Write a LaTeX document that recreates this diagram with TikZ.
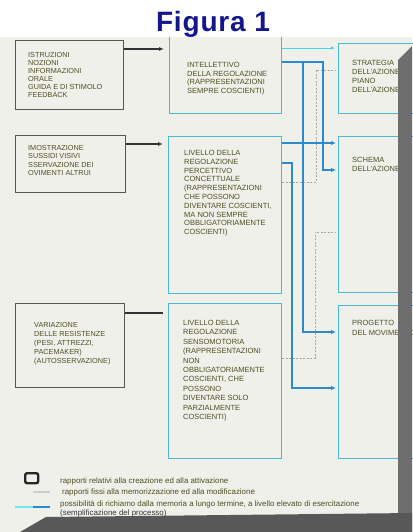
\documentclass[tikz,border=0pt]{standalone}
\usepackage{fontspec}
\setmainfont{Liberation Sans}
\newfontfamily\titlefont[LetterSpace=3]{Liberation Sans}
\usetikzlibrary{calc,arrows.meta}
\definecolor{navy}{HTML}{14168C}
\definecolor{pagebg}{HTML}{F0F0EA}
\definecolor{ltxt}{HTML}{4E4E22}
\definecolor{lboxc}{HTML}{585848}
\definecolor{cboxc}{HTML}{4DB8D4}
\definecolor{bline}{HTML}{2A8ACB}
\definecolor{cyanl}{HTML}{3CD8EC}
\definecolor{dashc}{HTML}{A8A8A0}
\definecolor{band}{HTML}{6E6E6E}
\definecolor{bandd}{HTML}{585858}
\tikzset{
 lbox/.style={draw=lboxc, line width=1.1pt, anchor=north west, inner sep=0pt},
 cbox/.style={draw=cboxc, line width=1.1pt, anchor=north west, inner sep=0pt},
 btxt/.style={anchor=north west, inner sep=0pt, align=left, text=ltxt, font=\fontsize{7.5}{8.8}\selectfont},
 darr/.style={draw=black!80, line width=1.3pt, -{Latex[length=5pt,width=4pt]}},
 dline/.style={draw=black!80, line width=1.3pt},
 barr/.style={draw=bline, line width=1.9pt, -{Latex[length=5pt,width=4.5pt]}},
 carr/.style={draw=cyanl, line width=0.9pt, -{Latex[length=4pt,width=3.5pt]}},
 gdash/.style={draw=dashc, line width=0.6pt, dash pattern=on 2pt off 1.5pt},
 legtxt/.style={anchor=west, inner sep=0pt, text=ltxt, font=\fontsize{7.9}{8}\selectfont},
}
\begin{document}
\begin{tikzpicture}[x=1pt,y=-1pt]
\useasboundingbox (0,0) rectangle (412,532);
\fill[white] (0,0) rectangle (412,532);
\fill[pagebg] (0,37) rectangle (412,532);
% boxes
\node[lbox, minimum width=108pt, minimum height=69pt] (L1) at (15,40) {};
\node[lbox, minimum width=110pt, minimum height=57pt] (L2) at (15,135) {};
\node[lbox, minimum width=109pt, minimum height=84pt] (L3) at (15,303) {};
\node[cbox, minimum width=112pt, minimum height=83pt] (M1) at (169,30) {};
\node[cbox, minimum width=113pt, minimum height=157pt] (M2) at (168,136) {};
\node[cbox, minimum width=113pt, minimum height=155pt] (M3) at (168,303) {};
\node[cbox, minimum width=80pt, minimum height=70pt] (R1) at (338,43) {};
\node[cbox, minimum width=80pt, minimum height=156pt] (R2) at (338,136) {};
\node[cbox, minimum width=80pt, minimum height=153pt] (R3) at (338,305) {};
% texts
\node[btxt, font=\fontsize{7.3}{8}\selectfont] (tL1) at (28,52) {ISTRUZIONI\\NOZIONI\\INFORMAZIONI\\ORALE\\GUIDA E DI STIMOLO\\FEEDBACK};
\node[btxt, font=\fontsize{7.3}{8.5}\selectfont] (tL2) at (28,145) {IMOSTRAZIONE\\SUSSIDI VISIVI\\SSERVAZIONE DEI\\OVIMENTI ALTRUI};
\node[btxt, font=\fontsize{7.3}{9}\selectfont] (tL3) at (34,322) {VARIAZIONE\\DELLE RESISTENZE\\(PESI, ATTREZZI,\\PACEMAKER)\\(AUTOSSERVAZIONE)};
\node[btxt, font=\fontsize{7.5}{8.7}\selectfont] (tM1) at (187,62) {INTELLETTIVO\\DELLA REGOLAZIONE\\(RAPPRESENTAZIONI\\SEMPRE COSCIENTI)};
\node[btxt] (tM2) at (184,150) {LIVELLO DELLA\\REGOLAZIONE\\PERCETTIVO\\CONCETTUALE\\(RAPPRESENTAZIONI\\CHE POSSONO\\DIVENTARE COSCIENTI,\\MA NON SEMPRE\\OBBLIGATORIAMENTE\\COSCIENTI)};
\node[btxt, font=\fontsize{7.5}{9.4}\selectfont] (tM3) at (183,320) {LIVELLO DELLA\\REGOLAZIONE\\SENSOMOTORIA\\(RAPPRESENTAZIONI\\NON\\OBBLIGATORIAMENTE\\COSCIENTI, CHE\\POSSONO\\DIVENTARE SOLO\\PARZIALMENTE\\COSCIENTI)};
\node[btxt, font=\fontsize{7.5}{9}\selectfont] (tR1) at (352,60) {STRATEGIA\\DELL'AZIONE\\PIANO\\DELL'AZIONE};
\node[btxt, font=\fontsize{7.5}{9.5}\selectfont] (tR2) at (352,157) {SCHEMA\\DELL'AZIONE};
\node[btxt, font=\fontsize{7.5}{10}\selectfont] (tR3) at (352,320) {PROGETTO\\DEL MOVIMENTO};
% dark connectors
\draw[darr] ($(L1.north east)+(0,9)$) -- ($(M1.north west)+(-5,19)$);
\draw[darr] ($(L2.north east)+(0,9)$) -- ($(M2.north west)+(-5,8)$);
\draw[dline] ($(L3.north east)+(0,10)$) -- ($(M3.north west)+(-5,10)$);
% dashed
\draw[gdash] ($(M2.north east)+(0,46)$) -| ($(R1.north west)+(-22,27)$) -- ($(R1.north west)+(-2,27)$);
\draw[gdash] ($(M3.north east)+(0,55)$) -| ($(R2.north west)+(-23,96)$) -- ($(R2.north west)+(-2,96)$);
% cyan thin
\draw[carr] ($(M1.north east)+(0,18)$) -- ($(R1.north west)+(-3,5)$);
% blue connectors
\draw[barr] ($(M1.north east)+(0,32)$) -| ($(R3.north west)+(-35,27)$) -- ($(R3.north west)+(-2,27)$);
\draw[barr] ($(M1.north east)+(0,32)$) -| ($(R2.north west)+(-15,34)$) -- ($(R2.north west)+(-2,34)$);
\draw[barr] ($(M2.north east)+(0,7)$) -- ($(R2.north west)+(-2,7)$);
\draw[barr] ($(M2.north east)+(0,27)$) -| ($(R3.north west)+(-46,83)$) -- ($(R3.north west)+(-2,83)$);
% top white strip
\fill[white] (0,0) rectangle (412,37);
% gray scan borders
\fill[band] (398,60) -- (412,46) -- (412,532) -- (398,532) -- cycle;
\fill[bandd] (20,532) -- (46,517) -- (412,513) -- (412,532) -- cycle;
% legend
\node[draw=black!85, line width=2.4pt, rounded corners=2pt, minimum width=13pt, minimum height=10pt, inner sep=0pt, anchor=north west] (sq) at (24,472) {};
\coordinate (g1) at (33,492); \coordinate (g2) at (50,492);
\draw[draw=black!20, line width=1.5pt] (g1) -- (g2);
\coordinate (h1) at (15,507); \coordinate (h2) at (33,507); \coordinate (h3) at (50,507);
\draw[draw=cyanl!70, line width=1.5pt] (h1) -- (h2);
\draw[draw=bline, line width=1.8pt] (h2) -- (h3);
\node[legtxt] (t1) at (60,481) {rapporti relativi alla creazione ed alla attivazione};
\node[legtxt] (t2) at (62,492) {rapporti fissi alla memorizzazione ed alla modificazione};
\node[legtxt] (t3) at (60,504) {possibilità di richiamo dalla memoria a lungo termine, a livello elevato di esercitazione};
\node[legtxt, text=black!80] (t4) at (60,513) {(semplificazione del processo)};
% title
\node[anchor=base, text=navy, font=\titlefont\fontsize{28}{30}\selectfont\bfseries] (title) at (213,32) {Figura 1};
\end{tikzpicture}
\end{document}
